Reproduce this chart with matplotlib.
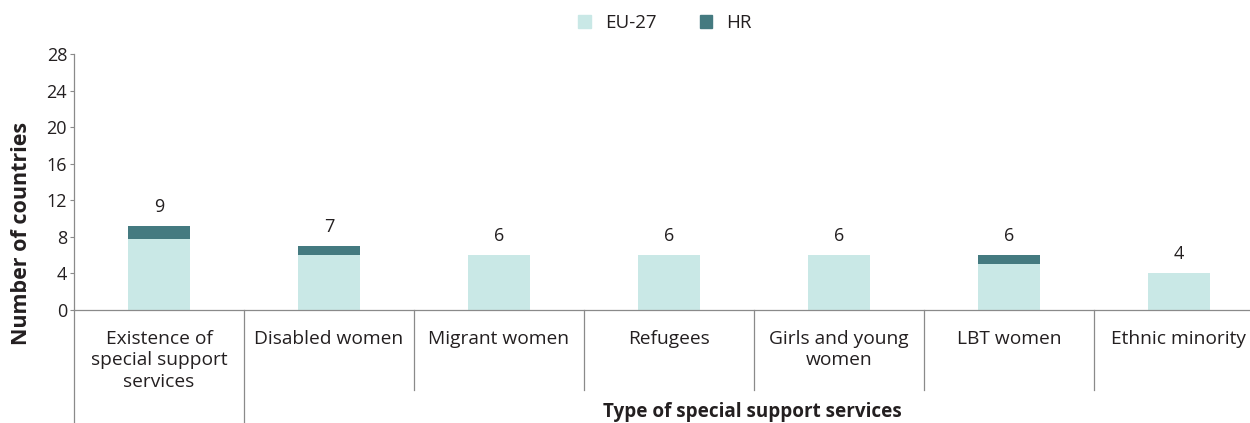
import matplotlib.pyplot as plt
import matplotlib as mpl
from matplotlib.patches import Patch

mpl.rcParams['font.family'] = ['Open Sans', 'DejaVu Sans']

# data
categories = ['Existence of\nspecial support\nservices', 'Disabled women',
              'Migrant women', 'Refugees', 'Girls and young\nwomen',
              'LBT women', 'Ethnic minority']
eu27 = [7.8, 6, 6, 6, 6, 5, 4]
hr = [1.35, 1, 0, 0, 0, 1, 0]
totals = ['9', '7', '6', '6', '6', '6', '4']
yticks = [0, 4, 8, 12, 16, 20, 24, 28]

c_eu = '#c9e8e6'
c_hr = '#447a80'
c_txt = '#231f20'
c_ax = '#8a8a8a'

W, H = 1250, 423
fig = plt.figure(figsize=(W / 100, H / 100), dpi=100)
ax = fig.add_axes([74 / W, (H - 310) / H, 1190 / W, 256 / H])

x = list(range(len(categories)))
ax.bar(x, eu27, width=0.36, color=c_eu, zorder=2)
ax.bar(x, hr, width=0.36, bottom=eu27, color=c_hr, zorder=2)
for xi, e, h, t in zip(x, eu27, hr, totals):
    ax.text(xi, e + h + 1.1, t, ha='center', va='bottom', fontsize=13, color=c_txt)

ax.set_xlim(-0.5, len(categories) - 0.5)
ax.set_ylim(0, 28)
ax.set_yticks(yticks)
ax.tick_params(axis='y', length=3, width=0.8, color=c_ax, labelsize=13,
               labelcolor=c_txt, pad=2)
ax.set_xticks([])
for s in ['top', 'right']:
    ax.spines[s].set_visible(False)
for s in ['left', 'bottom']:
    ax.spines[s].set_color(c_ax)
    ax.spines[s].set_linewidth(0.9)

# category labels and separator lines below the axis
trans = ax.get_xaxis_transform()
for xi, lab in zip(x, categories):
    ax.text(xi, -0.078, lab, transform=trans, ha='center', va='top',
            fontsize=13.8, color=c_txt, linespacing=1.25)
for b in range(len(categories) + 1):
    xs = b - 0.5
    y_end = -0.45 if b < 2 else -0.3125
    ax.plot([xs, xs], [0, y_end], transform=trans, color=c_ax, lw=0.9, clip_on=False)

fig.text(22 / W, 1 - 233 / H, 'Number of countries', rotation=90, ha='center',
         va='center', fontsize=15.5, fontweight='bold', color=c_txt)
fig.text(752 / W, 1 - 412 / H, 'Type of special support services', ha='center',
         va='center', fontsize=13.6, fontweight='bold', color=c_txt)

handles = [Patch(color=c_eu, label='EU-27'), Patch(color=c_hr, label='HR')]
fig.legend(handles=handles, loc='center', bbox_to_anchor=(665 / W, 1 - 23 / H),
           ncol=2, frameon=False, fontsize=13.5, handlelength=0.67, handleheight=0.67,
           columnspacing=2.3, handletextpad=0.75, labelcolor=c_txt,
           borderpad=0, borderaxespad=0)

fig.savefig('out.png', dpi=100)
